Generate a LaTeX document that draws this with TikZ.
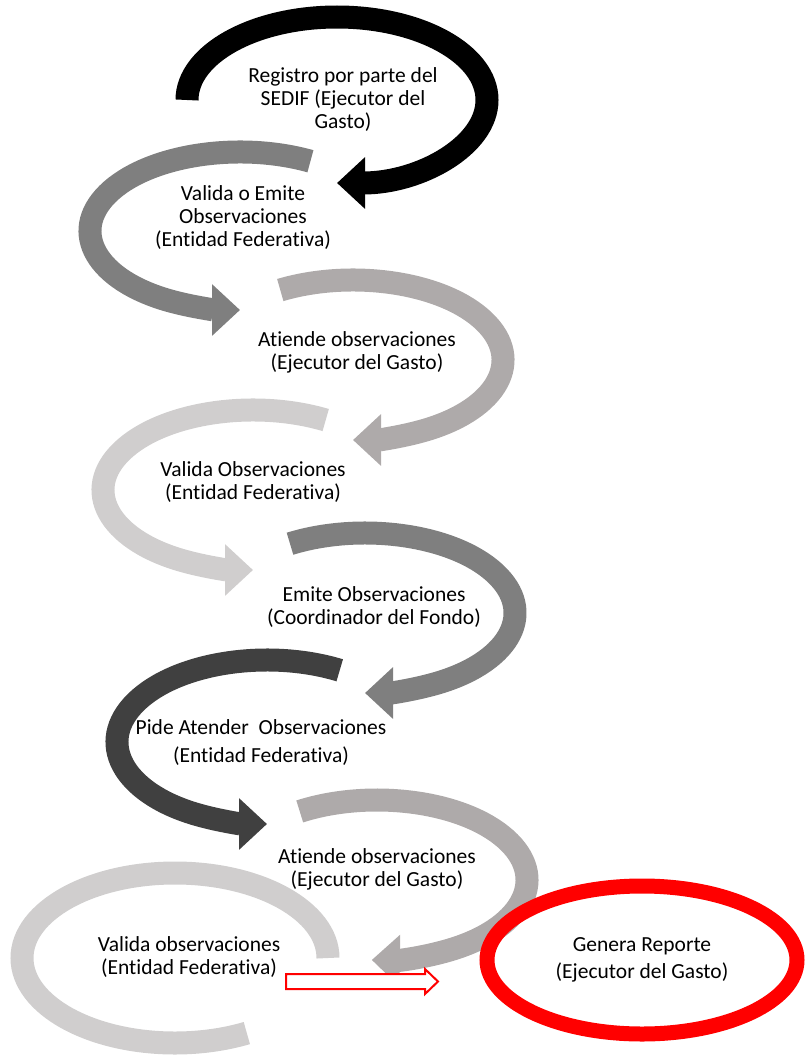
\documentclass[tikz,border=0pt]{standalone}
\usepackage{fontspec}
\setmainfont{Carlito}[Ligatures=NoCommon]
\usetikzlibrary{arrows.meta}
\definecolor{grisA}{HTML}{7F7F7F}
\definecolor{grisB}{HTML}{AEAAAA}
\definecolor{grisC}{HTML}{D0CECE}
\definecolor{grisD}{HTML}{404040}
\tikzset{
  vuelta/.style={line width=23pt},
  paso/.style={vuelta, -{Triangle[length=28pt,width=50pt]}},
  texto/.style={align=center, inner sep=0pt, font=\fontsize{21.5}{23}\selectfont},
}
\begin{document}
\begin{tikzpicture}[x=1pt, y=-1pt]
    \useasboundingbox (0,0) rectangle (806,1057);

    \draw[paso, black, shift={(337,100)}] (180:150 and 83) arc[start angle=180, end angle=450, x radius=150, y radius=83];
    \draw[paso, grisA, shift={(240,231)}] (-62:150 and 79) arc[start angle=-62, end angle=-270, x radius=150, y radius=79];
    \draw[paso, grisB, shift={(353,360)}] (-119:150 and 80) arc[start angle=-119, end angle=90, x radius=150, y radius=80];
    \draw[paso, grisC, shift={(253,490)}] (-61:150 and 80) arc[start angle=-61, end angle=-270, x radius=150, y radius=80];
    \draw[paso, grisA, shift={(365,613)}] (-120:150 and 80) arc[start angle=-120, end angle=90, x radius=150, y radius=80];
    \draw[paso, grisD, shift={(267,742)}] (-61:150 and 82) arc[start angle=-61, end angle=-270, x radius=150, y radius=82];
    \draw[paso, grisB, shift={(377,880)}] (-121:150 and 80) arc[start angle=-121, end angle=92, x radius=150, y radius=80];
    \draw[vuelta, grisC, shift={(175,958)}] (0:153 and 85) arc[start angle=0, end angle=-298, x radius=153, y radius=85];

    \node[texto] (registro) at (343,100) {Registro por parte del\\SEDIF (Ejecutor del\\Gasto)};
    \node[texto] (valida1) at (243,218) {Valida o Emite\\Observaciones\\(Entidad Federativa)};
    \node[texto] (atiende1) at (357,352) {Atiende observaciones\\(Ejecutor del Gasto)};
    \node[texto] (valida2) at (253,482) {Valida Observaciones\\(Entidad Federativa)};
    \node[texto] (emite) at (374,607) {Emite Observaciones\\(Coordinador del Fondo)};
    \node[texto] (pide) at (261,743) {Pide Atender\ \ Observaciones\\[5pt](Entidad Federativa)};
    \node[texto] (atiende2) at (377,869) {Atiende observaciones\\(Ejecutor del Gasto)};
    \node[texto] (valida3) at (189,957) {Valida observaciones\\(Entidad Federativa)};
    \node[texto] (genera) at (642,960) {Genera Reporte\\[4pt](Ejecutor del Gasto)};

    \coordinate (flecha) at (286,980.5);
    \draw[red, line width=2pt, fill=white] (flecha) ++(0,-6.5) -- ++(139,0) -- ++(0,-5) -- ++(13,12.5) -- ++(-13,12.5) -- ++(0,-5) -- ++(-139,0) -- cycle;

    \draw[red, line width=15pt] (genera) ellipse[x radius=155, y radius=74];
\end{tikzpicture}
\end{document}
